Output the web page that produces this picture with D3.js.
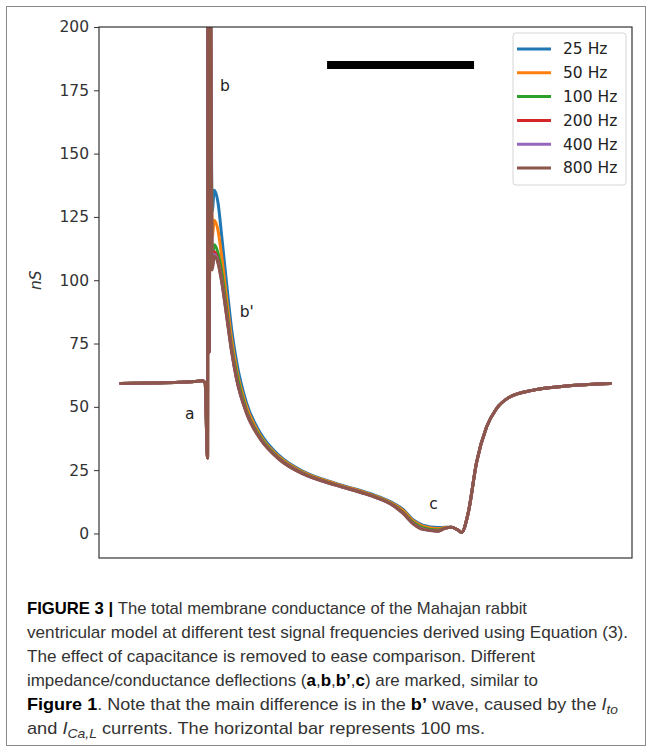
<!DOCTYPE html>
<html>
<head>
<meta charset="utf-8">
<script src="https://cdn.jsdelivr.net/npm/d3@7"></script>
<style>
  body { margin: 0; background: #fff; }
  svg { display: block; }
</style>
</head>
<body>
<div id="chart"></div>
<script>
// time in ms (shared by all traces)
const timeMs = [0, 20, 40, 50, 55.8, 57.5, 59.2, 59.4, 60.3, 61.1, 62.3, 63.8, 66.2, 68.9, 72.1, 75.5, 78.9, 85.7, 94.8, 108.4, 124.2, 146.9, 169.6, 185.4, 192, 199, 205.6, 215.9, 220.6, 225.2, 229.7, 232, 236.5, 242.2, 249, 255.8, 264.8, 280.7, 303.4, 333.3];

const hz25  = [59.2, 59.4, 59.7, 60, 60.3, 59.5, 29.8, 215, 71.5, 215, 127, 135.5, 131, 117, 99, 81, 68, 51.5, 40, 30.5, 24.5, 19.7, 15.8, 12, 9.6, 5.4, 3.3, 2.3, 2.4, 2.4, 1.3, 0.4, 8, 28, 42, 49.3, 53.9, 56.6, 58.2, 59.2];
const hz50  = [59.2, 59.4, 59.7, 60, 60.3, 59.5, 29.8, 215, 71.5, 215, 117, 123.7, 120, 109, 93, 77, 65, 50, 39, 30, 24.2, 19.5, 15.5, 11.7, 9.2, 5, 2.9, 1.9, 2.3, 2.4, 1.3, 0.4, 8, 28, 42, 49.3, 53.9, 56.6, 58.2, 59.2];
const hz100 = [59.2, 59.4, 59.7, 60, 60.3, 59.5, 29.8, 215, 71.5, 215, 109, 114, 111, 103, 89, 74, 63, 48.5, 38.3, 29.5, 23.8, 19.2, 15.2, 11.3, 8.5, 4.4, 2.3, 1.4, 2.1, 2.4, 1.3, 0.4, 8, 28, 42, 49.3, 53.9, 56.6, 58.2, 59.2];
const hz200 = [59.2, 59.4, 59.7, 60, 60.3, 59.5, 29.8, 215, 71.5, 215, 105.5, 111.2, 108, 100, 87, 72.5, 61.3, 47.8, 37.7, 29.2, 23.6, 19.1, 15.1, 11.1, 8.2, 4, 1.8, 1, 2, 2.4, 1.3, 0.4, 8, 28, 42, 49.3, 53.9, 56.6, 58.2, 59.2];
const hz400 = [59.2, 59.4, 59.7, 60, 60.3, 59.5, 29.8, 215, 71.5, 215, 104.5, 110.2, 107.3, 99.3, 86.3, 72.2, 61.1, 47.6, 37.6, 29.1, 23.5, 19, 15, 11, 8, 3.9, 1.7, 0.9, 2, 2.4, 1.3, 0.4, 8, 28, 42, 49.3, 53.9, 56.6, 58.2, 59.2];
const hz800 = [59.2, 59.4, 59.7, 60, 60.3, 59.5, 29.8, 215, 71.5, 215, 104, 109.5, 107, 99, 86, 72, 61, 47.5, 37.5, 29, 23.5, 19, 15, 11, 8, 3.8, 1.6, 0.9, 2, 2.4, 1.3, 0.4, 8, 28, 42, 49.3, 53.9, 56.6, 58.2, 59.2];

const seriesNames = ['25 Hz', '50 Hz', '100 Hz', '200 Hz', '400 Hz', '800 Hz'];
const seriesColors = ['#1f77b4', '#ff7f0e', '#2ca02c', '#d62728', '#9467bd', '#8c564b'];
const yTicks = [0, 25, 50, 75, 100, 125, 150, 175, 200];

// deflection labels, in data coords
const markLabels = ['a', 'b', "b'", 'c'];
const markTimes = [47.1, 71, 85.9, 213];
const markValues = [47.5, 177, 87.5, 11.9];

// 100 ms scale bar
const barStart = 140.5;
const barEnd = 240.5;
const barLevel = 185;

const captionLines = [
  [['FIGURE 3 | ', 'b'], ['The total membrane conductance of the Mahajan rabbit', '']],
  [['ventricular model at different test signal frequencies derived using Equation (3).', '']],
  [['The effect of capacitance is removed to ease comparison. Different', '']],
  [['impedance/conductance deflections (', ''], ['a', 'b'], [',', ''], ['b', 'b'], [',', ''], ['b\u2019', 'b'], [',', ''], ['c', 'b'], [') are marked, similar to', '']],
  [['Figure 1', 'b'], ['. Note that the main difference is in the ', ''], ['b\u2019', 'b'], [' wave, caused by the ', ''], ['I', 'i'], ['to', 'sub']],
  [['and ', ''], ['I', 'i'], ['Ca,L', 'sub'], [' currents. The horizontal bar represents 100 ms.', 'up']]
];
// right end of each caption line in the reference
const captionEnds = [527, 628, 535, 538, 618, 485];

const series = seriesNames.map((name, i) => ({
  name: name,
  color: seriesColors[i],
  values: [hz25, hz50, hz100, hz200, hz400, hz800][i].map((v, j) => ({ t: timeMs[j], v: v }))
}));

const width = 652, height = 752;
const margin = { top: 27, right: 20, bottom: 194, left: 99 };
const innerW = width - margin.left - margin.right;
const innerH = height - margin.top - margin.bottom;
const plotFont = 'DejaVu Sans';
const plotFontSize = 15.5;

const svg = d3.select('#chart').append('svg')
  .attr('width', width)
  .attr('height', height);

// outer frame
svg.append('rect')
  .attr('x', 6.5).attr('y', 6.5)
  .attr('width', 639).attr('height', 739)
  .attr('fill', 'none')
  .attr('stroke', '#8a8a8a');

const chart = svg.append('g')
  .attr('transform', `translate(${margin.left},${margin.top})`);

const tExtent = d3.extent(timeMs);
const tPad = (tExtent[1] - tExtent[0]) * 0.044;
const xScale = d3.scaleLinear()
  .domain([tExtent[0] - tPad, tExtent[1] + tPad])
  .range([0, innerW]);

const yScale = d3.scaleLinear()
  .domain([-9.7, 200])
  .range([innerH, 0]);

chart.append('clipPath')
  .attr('id', 'clip')
  .append('rect')
  .attr('width', innerW)
  .attr('height', innerH);

const line = d3.line()
  .x(d => xScale(d.t))
  .y(d => yScale(d.v))
  .curve(d3.curveMonotoneX);

chart.append('g')
  .attr('clip-path', 'url(#clip)')
  .selectAll('.trace')
  .data(series)
  .join('path')
  .attr('class', 'trace')
  .attr('d', d => line(d.values))
  .attr('fill', 'none')
  .attr('stroke', d => d.color)
  .attr('stroke-width', 3)
  .attr('stroke-linejoin', 'round')
  .attr('stroke-linecap', 'round');

// y axis
const yAxis = d3.axisLeft(yScale)
  .tickValues(yTicks)
  .tickSize(5)
  .tickPadding(5);

const yAxisGroup = chart.append('g')
  .attr('class', 'axis y-axis')
  .call(yAxis);
yAxisGroup.select('.domain').remove();
yAxisGroup.selectAll('line').attr('stroke', '#333');
yAxisGroup.selectAll('text')
  .attr('font-family', plotFont)
  .attr('font-size', plotFontSize)
  .attr('fill', '#333');

// axes box
chart.append('rect')
  .attr('x', 0).attr('y', 0)
  .attr('width', innerW).attr('height', innerH)
  .attr('fill', 'none')
  .attr('stroke', '#333')
  .attr('stroke-width', 1.2);

chart.append('text')
  .attr('transform', `translate(${-58},${yScale(100)}) rotate(-90)`)
  .attr('text-anchor', 'middle')
  .attr('font-family', plotFont)
  .attr('font-style', 'italic')
  .attr('font-size', plotFontSize)
  .attr('fill', '#333')
  .text('nS');

// deflection labels
chart.selectAll('.mark')
  .data(markLabels)
  .join('text')
  .attr('class', 'mark')
  .attr('x', (d, i) => xScale(markTimes[i]))
  .attr('y', (d, i) => yScale(markValues[i]))
  .attr('dy', '0.35em')
  .attr('text-anchor', 'middle')
  .attr('font-family', plotFont)
  .attr('font-size', plotFontSize)
  .attr('fill', '#222')
  .text(d => d);

// scale bar
chart.append('line')
  .attr('x1', xScale(barStart))
  .attr('x2', xScale(barEnd))
  .attr('y1', yScale(barLevel))
  .attr('y2', yScale(barLevel))
  .attr('stroke', '#000')
  .attr('stroke-width', 8);

// legend
const legend = chart.append('g')
  .attr('transform', `translate(${innerW - 119},${6})`);

legend.append('rect')
  .attr('width', 113)
  .attr('height', 152)
  .attr('rx', 3)
  .attr('fill', '#fff')
  .attr('stroke', '#d6d6d6');

const legendItem = legend.selectAll('.legend-item')
  .data(series)
  .join('g')
  .attr('class', 'legend-item')
  .attr('transform', (d, i) => `translate(0,${16 + i * 23.8})`);

legendItem.append('line')
  .attr('x1', 4).attr('x2', 38)
  .attr('stroke', d => d.color)
  .attr('stroke-width', 3);

legendItem.append('text')
  .attr('x', 50)
  .attr('dy', '0.35em')
  .attr('font-family', plotFont)
  .attr('font-size', plotFontSize)
  .attr('fill', '#222')
  .text(d => d.name);

// caption
const captionX = 27;
const caption = svg.append('g')
  .attr('transform', `translate(${captionX},614)`);

captionLines.forEach((parts, i) => {
  const text = caption.append('text')
    .attr('y', i * 24)
    .attr('font-family', 'Liberation Sans, Arial, sans-serif')
    .attr('font-size', 17)
    .attr('fill', '#333')
    .attr('textLength', captionEnds[i] - captionX)
    .attr('lengthAdjust', 'spacingAndGlyphs');
  parts.forEach(([str, style]) => {
    const ts = text.append('tspan').text(str);
    if (style === 'b') ts.attr('font-weight', 'bold').attr('fill', '#000');
    if (style === 'i') ts.attr('font-style', 'italic');
    if (style === 'sub') ts.attr('font-style', 'italic').attr('font-size', 13).attr('dy', 4);
    if (style === 'up') ts.attr('dy', -4);
  });
});
</script>
</body>
</html>
